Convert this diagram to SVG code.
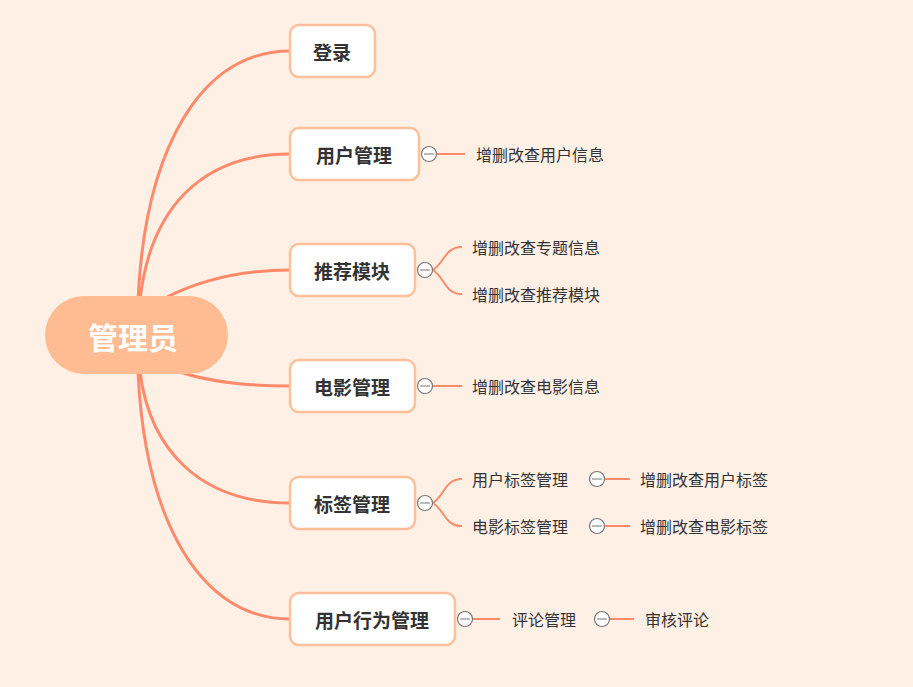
<svg xmlns="http://www.w3.org/2000/svg" width="913" height="687" viewBox="0 0 913 687">
<style>
.bg{fill:#fff0e6}
.c{fill:none;stroke:#ff8a6b;stroke-width:3;stroke-linecap:round}
.s{fill:none;stroke:#ff8a6b;stroke-width:2}
.n{fill:#fff;stroke:#ffbf99;stroke-width:2.5}
.t{font-family:"Noto Sans CJK SC",sans-serif;font-size:19px;font-weight:bold;fill:#333;text-anchor:middle;dominant-baseline:central}
.l{font-family:"Noto Sans CJK SC",sans-serif;font-size:16px;fill:#333;dominant-baseline:central}
.k{fill:#fff;stroke:#777;stroke-width:1.2}
</style>
<rect class="bg" width="913" height="687"/>
<g id="connectors">
<path class="c" d="M138,300 C145,150 200,51 290,51"/>
<path class="c" d="M140,300 C150,210 200,154 290,154"/>
<path class="c" d="M165,298 C200,280 240,270 290,270"/>
<path class="c" d="M180,372 C210,382 250,386 290,386"/>
<path class="c" d="M140,372 C150,450 200,503 290,503"/>
<path class="c" d="M138,372 C145,520 200,619 290,619"/>
<path class="s" d="M437,154 H465"/>
<path class="s" d="M433,270 C445,262 445,247 462,247"/>
<path class="s" d="M433,270 C445,278 445,294 462,294"/>
<path class="s" d="M433,386 H462"/>
<path class="s" d="M433,503 C445,495 445,479 462,479"/>
<path class="s" d="M433,503 C445,511 445,526 462,526"/>
<path class="s" d="M605,479 H630"/>
<path class="s" d="M605,526 H630"/>
<path class="s" d="M473,619 H500"/>
<path class="s" d="M610,619 H634"/>
</g>
<g id="root"><rect x="45" y="296" width="183" height="78" rx="39" fill="#ffbb91"/><text x="133" y="336" class="t" style="font-size:30px;fill:#fff">管理员</text></g>
<g id="n1"><rect class="n" x="290" y="25" width="85" height="52" rx="9"/><text class="t" x="332" y="51">登录</text></g>
<g id="n2"><rect class="n" x="290" y="128" width="129" height="52" rx="9"/><text class="t" x="354" y="154">用户管理</text><circle class="k" cx="429" cy="154" r="7.5"/><path d="M424,154H434" stroke="#777"/><text class="l" x="476" y="154">增删改查用户信息</text></g>
<g id="n3"><rect class="n" x="290" y="244" width="125" height="52" rx="9"/><text class="t" x="352" y="270">推荐模块</text><circle class="k" cx="425" cy="270" r="7.5"/><path d="M420,270H430" stroke="#777"/><text class="l" x="472" y="247">增删改查专题信息</text><text class="l" x="472" y="294">增删改查推荐模块</text></g>
<g id="n4"><rect class="n" x="290" y="360" width="125" height="52" rx="9"/><text class="t" x="352" y="386">电影管理</text><circle class="k" cx="425" cy="386" r="7.5"/><path d="M420,386H430" stroke="#777"/><text class="l" x="472" y="386">增删改查电影信息</text></g>
<g id="n5"><rect class="n" x="290" y="477" width="125" height="52" rx="9"/><text class="t" x="352" y="503">标签管理</text><circle class="k" cx="425" cy="503" r="7.5"/><path d="M420,503H430" stroke="#777"/>
<text class="l" x="472" y="479">用户标签管理</text><circle class="k" cx="597" cy="479" r="7.5"/><path d="M592,479H602" stroke="#777"/><text class="l" x="640" y="479">增删改查用户标签</text>
<text class="l" x="472" y="526">电影标签管理</text><circle class="k" cx="597" cy="526" r="7.5"/><path d="M592,526H602" stroke="#777"/><text class="l" x="640" y="526">增删改查电影标签</text></g>
<g id="n6"><rect class="n" x="290" y="593" width="165" height="52" rx="9"/><text class="t" x="372" y="619">用户行为管理</text><circle class="k" cx="465" cy="619" r="7.5"/><path d="M460,619H470" stroke="#777"/>
<text class="l" x="512" y="619">评论管理</text><circle class="k" cx="602" cy="619" r="7.5"/><path d="M597,619H607" stroke="#777"/><text class="l" x="645" y="619">审核评论</text></g>
</svg>
